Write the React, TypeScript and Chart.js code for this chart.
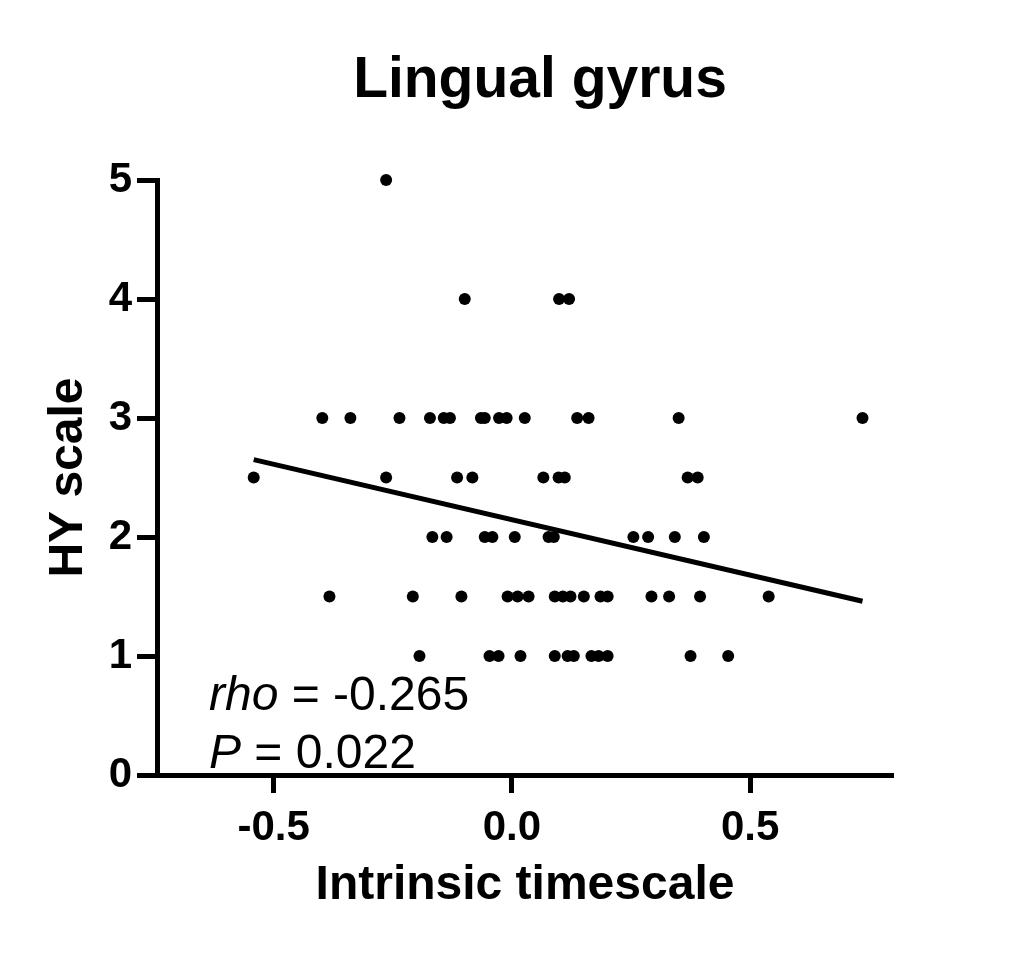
import React, { useEffect, useRef } from "react";
import { Chart, registerables } from "chart.js";

Chart.register(...registerables);

const FONT = "'Liberation Sans', Arial, Helvetica, sans-serif";

// Chart text
const chartTitle = "Lingual gyrus";
const xAxisTitle = "Intrinsic timescale";
const yAxisTitle = "HY scale";
const statRhoLabel = "rho";
const statRhoValue = " = -0.265";
const statPLabel = "P";
const statPValue = " = 0.022";

// Tick values
const xTickValues = [-0.5, 0.0, 0.5];
const yTickValues = [0, 1, 2, 3, 4, 5];

// Intrinsic timescale values grouped by HY scale level
const xAtHY5 = [-0.264];
const xAtHY4 = [-0.099, 0.099, 0.12];
const xAtHY3 = [
  -0.398, -0.339, -0.236, -0.172, -0.143, -0.13, -0.065, -0.057, -0.027, -0.011,
  0.027, 0.137, 0.161, 0.35, 0.736,
];
const xAtHY25 = [-0.542, -0.264, -0.115, -0.083, 0.066, 0.098, 0.111, 0.369, 0.39];
const xAtHY2 = [-0.167, -0.137, -0.057, -0.041, 0.006, 0.077, 0.088, 0.255, 0.286, 0.342, 0.403];
const xAtHY15 = [
  -0.383, -0.208, -0.106, -0.009, 0.012, 0.035, 0.09, 0.107, 0.123, 0.151, 0.186,
  0.201, 0.293, 0.33, 0.395, 0.539,
];
const xAtHY1 = [-0.194, -0.047, -0.028, 0.018, 0.09, 0.117, 0.13, 0.167, 0.182, 0.201, 0.375, 0.454];

const hyLevels = [5, 4, 3, 2.5, 2, 1.5, 1];
const xGroups = [xAtHY5, xAtHY4, xAtHY3, xAtHY25, xAtHY2, xAtHY15, xAtHY1];

// Regression line end points
const fitX = [-0.542, 0.736];
const fitY = [2.65, 1.46];

export default function App() {
  const canvasRef = useRef<HTMLCanvasElement | null>(null);

  useEffect(() => {
    const canvas = canvasRef.current;
    if (!canvas) return;

    const points: { x: number; y: number }[] = [];
    hyLevels.forEach((lvl, i) => {
      xGroups[i].forEach((xv) => points.push({ x: xv, y: lvl }));
    });
    const fitPoints = fitX.map((xv, i) => ({ x: xv, y: fitY[i] }));

    const textPlugin = {
      id: "textPlugin",
      afterDraw(chart: any) {
        const ctx = chart.ctx as CanvasRenderingContext2D;
        ctx.save();
        ctx.fillStyle = "#000";
        ctx.textBaseline = "alphabetic";
        // main title
        ctx.font = `bold 57px ${FONT}`;
        ctx.textAlign = "center";
        ctx.fillText(chartTitle, 540, 97);
        // statistics
        ctx.textAlign = "left";
        const drawStat = (label: string, value: string, x: number, y: number) => {
          ctx.font = `italic 48px ${FONT}`;
          ctx.fillText(label, x, y);
          const w = ctx.measureText(label).width;
          ctx.font = `48px ${FONT}`;
          ctx.fillText(value, x + w, y);
        };
        drawStat(statRhoLabel, statRhoValue, 209, 710);
        drawStat(statPLabel, statPValue, 209, 768);
        ctx.restore();
      },
    };

    const chart = new Chart(canvas, {
      type: "scatter",
      data: {
        datasets: [
          {
            type: "line",
            data: fitPoints,
            borderColor: "#000",
            borderWidth: 5,
            pointRadius: 0,
            fill: false,
            tension: 0,
            clip: false,
          } as any,
          {
            type: "scatter",
            data: points,
            backgroundColor: "#000",
            borderWidth: 0,
            pointRadius: 6,
            clip: false,
          } as any,
        ],
      },
      options: {
        animation: false,
        responsive: false,
        layout: { padding: { left: 0, right: 135, top: 180, bottom: 0 } },
        plugins: {
          legend: { display: false },
          tooltip: { enabled: false },
          title: { display: false },
        },
        scales: {
          x: {
            type: "linear",
            min: -0.745,
            max: 0.8,
            afterBuildTicks: (s: any) => {
              s.ticks = xTickValues.map((v) => ({ value: v }));
            },
            afterFit: (s: any) => {
              s.height = 183;
            },
            grid: {
              drawOnChartArea: false,
              drawTicks: true,
              tickLength: 18,
              tickWidth: 5,
              tickColor: "#000",
            },
            border: { display: true, width: 5, color: "#000" },
            ticks: {
              color: "#000",
              font: { family: FONT, size: 42, weight: "bold" },
              padding: 10,
              maxRotation: 0,
              autoSkip: false,
              callback: (v: any) => Number(v).toFixed(1),
            },
            title: {
              display: true,
              text: xAxisTitle,
              color: "#000",
              font: { family: FONT, size: 48, weight: "bold" },
              padding: { top: 0, bottom: 43 },
            },
          },
          y: {
            type: "linear",
            min: 0,
            max: 5,
            afterBuildTicks: (s: any) => {
              s.ticks = yTickValues.map((v) => ({ value: v }));
            },
            afterFit: (s: any) => {
              s.width = 157;
            },
            grid: {
              drawOnChartArea: false,
              drawTicks: true,
              tickLength: 20,
              tickWidth: 5,
              tickColor: "#000",
            },
            border: { display: true, width: 5, color: "#000" },
            ticks: {
              color: "#000",
              font: { family: FONT, size: 42, weight: "bold" },
              padding: 5,
              autoSkip: false,
              callback: (v: any) => String(v),
            },
            title: {
              display: true,
              text: yAxisTitle,
              color: "#000",
              font: { family: FONT, size: 48, weight: "bold" },
              padding: { top: 40, bottom: 0 },
            },
          },
        },
      } as any,
      plugins: [textPlugin],
    });

    return () => {
      chart.destroy();
    };
  }, []);

  return (
    <canvas
      ref={canvasRef}
      width={1028}
      height={958}
      style={{ position: "absolute", left: 0, top: 0, width: 1028, height: 958, display: "block", background: "#fff" }}
    />
  );
}
